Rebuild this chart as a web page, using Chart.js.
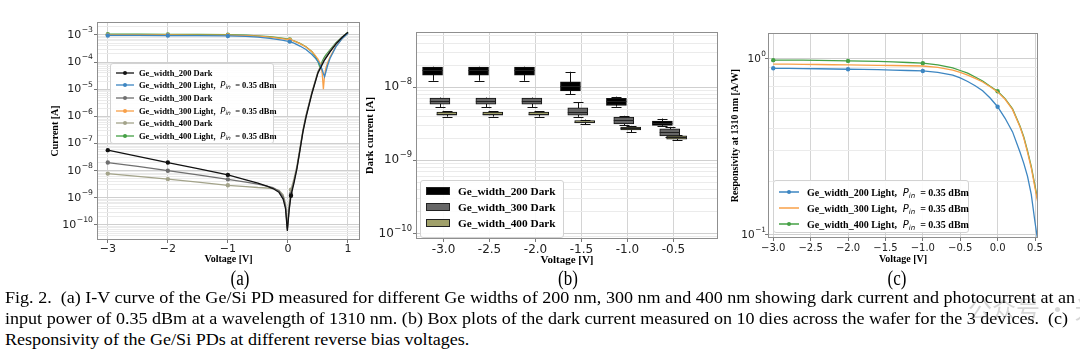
<!DOCTYPE html>
<html>
<head>
<meta charset="utf-8">
<script src="https://cdn.jsdelivr.net/npm/chart.js@4.4.1/dist/chart.umd.min.js"></script>
<style>
  html, body { margin: 0; padding: 0; background: #fff; }
  #fig { position: relative; width: 1080px; height: 353px; overflow: hidden; font-family: 'Liberation Serif', 'Times New Roman', serif; color: #000; }
  canvas { position: absolute; top: 0; }
  .leg { position: absolute; background: rgba(255,255,255,0.9); border: 1px solid #d2d2d2; border-radius: 3px; font-weight: bold; box-sizing: border-box; white-space: nowrap; }
  .row { display: flex; align-items: center; }
  .row svg { flex: none; }
  .row i { font-family: 'DejaVu Sans', sans-serif; font-weight: normal; }
  .row sub { font-size: 70%; vertical-align: -0.25em; line-height: 0; }
  .lab { position: absolute; top: 267px; font-size: 20px; line-height: 22px; transform: translateX(-50%) scaleX(0.85); }
  .cap { position: absolute; left: 5px; font-size: 17px; line-height: 21px; white-space: nowrap; transform-origin: 0 50%; }
  .wm { position: absolute; left: 968px; top: 290px; font-family: 'Noto Sans CJK SC', sans-serif; font-size: 24px; color: rgba(110,110,110,0.28); white-space: nowrap; }
</style>
</head>
<body>
<div id="fig">
  <canvas id="chartA" width="372" height="268" style="left:0px"></canvas>
  <canvas id="chartB" width="370" height="268" style="left:362px"></canvas>
  <canvas id="chartC" width="354" height="268" style="left:726px"></canvas>
  <div class="leg" id="legA" style="left:110px;top:63px;width:164px;height:81px;font-size:8.5px;padding-top:2.5px"></div>
  <div class="leg" id="legB" style="left:420px;top:180px;width:144px;height:58px;font-size:11.3px;padding-top:2px"></div>
  <div class="leg" id="legC" style="left:773px;top:180px;width:196px;height:53px;font-size:10px;padding-top:3px"></div>
  <div class="lab" style="left:240px">(a)</div>
  <div class="lab" style="left:568px">(b)</div>
  <div class="lab" style="left:897px">(c)</div>
  <div class="cap" style="top:287px">Fig. 2.&nbsp; (a) I-V curve of the Ge/Si PD measured for different Ge widths of 200 nm, 300 nm and 400 nm showing dark current and photocurrent at an</div>
  <div class="cap" style="top:308px">input power of 0.35 dBm at a wavelength of 1310 nm. (b) Box plots of the dark current measured on 10 dies across the wafer for the 3 devices.&nbsp; (c)</div>
  <div class="cap" style="top:329px">Responsivity of the Ge/Si PDs at different reverse bias voltages.</div>
  <div class="wm">公众号 · 光芯</div>
</div>
<script>
// (a) I-V curves
const vDark = [-3, -2.5, -2, -1.5, -1, -0.7, -0.5, -0.35, -0.25, -0.15, -0.08, -0.04, -0.01, 0.02, 0.05, 0.1, 0.15, 0.2, 0.25, 0.3, 0.4, 0.5, 0.6, 0.7, 0.8, 0.9, 1.0];
const dark200 = [5.7e-8, 3.4e-8, 2.0e-8, 1.2e-8, 7.0e-9, 4.6e-9, 3.5e-9, 2.7e-9, 2.2e-9, 1.6e-9, 9e-10, 4e-10, 6e-11, 3.5e-10, 1.2e-9, 3.5e-9, 1.2e-8, 5.6e-8, 2.7e-7, 9e-7, 7e-6, 4e-5, 1.1e-4, 2.4e-4, 4.7e-4, 8e-4, 1.25e-3];
const dark300 = [2.0e-8, 1.45e-8, 1.0e-8, 7e-9, 4.8e-9, 3.8e-9, 3.2e-9, 2.7e-9, 2.4e-9, 1.8e-9, 1.1e-9, 5e-10, 7e-11, 4e-10, 1.4e-9, 4e-9, 1.3e-8, 6e-8, 2.9e-7, 1e-6, 7.5e-6, 4.2e-5, 1.15e-4, 2.5e-4, 4.8e-4, 8e-4, 1.2e-3];
const dark400 = [7.8e-9, 6.2e-9, 4.9e-9, 3.8e-9, 2.9e-9, 2.6e-9, 2.4e-9, 2.3e-9, 2.2e-9, 1.9e-9, 1.3e-9, 6e-10, 8e-11, 6e-10, 2e-9, 5e-9, 1.5e-8, 7e-8, 3.2e-7, 1.1e-6, 8e-6, 4.5e-5, 1.2e-4, 2.6e-4, 5e-4, 8.2e-4, 1.2e-3];
const vLight = [-3, -2.5, -2, -1.5, -1, -0.7, -0.5, -0.3, -0.1, 0.03, 0.1, 0.2, 0.3, 0.4, 0.45, 0.5, 0.53, 0.55, 0.57, 0.59, 0.61, 0.63, 0.66, 0.7, 0.8, 0.9, 1.0];
const light200 = [9.6e-4, 9.6e-4, 9.5e-4, 9.4e-4, 9.2e-4, 8.8e-4, 8.3e-4, 7.5e-4, 6.5e-4, 5.7e-4, 5.0e-4, 3.9e-4, 2.9e-4, 1.9e-4, 1.45e-4, 1.05e-4, 8.2e-5, 6.8e-5, 5.2e-5, 3.8e-5, 2.9e-5, 4.2e-5, 7.5e-5, 1.35e-4, 3.7e-4, 7.2e-4, 1.15e-3];
const light300 = [1.0e-3, 1.0e-3, 1.0e-3, 9.9e-4, 9.8e-4, 9.4e-4, 9.0e-4, 8.3e-4, 7.3e-4, 6.6e-4, 6.0e-4, 4.8e-4, 3.6e-4, 2.4e-4, 1.8e-4, 1.3e-4, 9.5e-5, 7e-5, 4e-5, 1e-5, 3.2e-5, 5.8e-5, 9.5e-5, 1.55e-4, 3.9e-4, 7.3e-4, 1.2e-3];
const light400 = [1.06e-3, 1.06e-3, 1.05e-3, 1.04e-3, 1.02e-3, 9.8e-4, 9.3e-4, 8.6e-4, 7.6e-4, 6.8e-4, 6.1e-4, 4.9e-4, 3.7e-4, 2.4e-4, 1.7e-4, 1.05e-4, 6.7e-5, 8e-5, 1.05e-4, 1.3e-4, 1.55e-4, 1.8e-4, 2.2e-4, 2.8e-4, 5.2e-4, 8.3e-4, 1.25e-3];
const marksDark = [-3, -2, -1, 0.05];
const marksLight = [-3, -2, -1, 0.03];
const ticksAX = [-3, -2, -1, 0, 1];
const expsA = [-10, -9, -8, -7, -6, -5, -4, -3];

// (b) dark current box plots
const boxV = [-3.0, -2.5, -2.0, -1.5, -1.0, -0.5];
const q1_200 = [1.45e-8, 1.45e-8, 1.45e-8, 8.9e-9, 5.6e-9, 3.0e-9];
const q3_200 = [1.88e-8, 1.88e-8, 1.88e-8, 1.18e-8, 7.0e-9, 3.42e-9];
const med200 = [1.7e-8, 1.7e-8, 1.7e-8, 1.05e-8, 6.4e-9, 3.2e-9];
const lo200 = [1.22e-8, 1.22e-8, 1.22e-8, 8.0e-9, 5.4e-9, 2.95e-9];
const hi200 = [1.9e-8, 1.9e-8, 1.9e-8, 1.62e-8, 7.4e-9, 3.72e-9];
const q1_300 = [5.85e-9, 5.85e-9, 5.85e-9, 4.15e-9, 3.15e-9, 2.15e-9];
const q3_300 = [7.1e-9, 7.1e-9, 7.1e-9, 5.2e-9, 3.9e-9, 2.7e-9];
const med300 = [6.5e-9, 6.5e-9, 6.5e-9, 4.6e-9, 3.5e-9, 2.45e-9];
const lo300 = [5.3e-9, 5.3e-9, 5.3e-9, 3.92e-9, 3.0e-9, 2.1e-9];
const hi300 = [7.2e-9, 7.2e-9, 7.2e-9, 6.2e-9, 4.05e-9, 2.86e-9];
const q1_400 = [4.15e-9, 4.15e-9, 4.15e-9, 3.25e-9, 2.6e-9, 1.95e-9];
const q3_400 = [4.55e-9, 4.55e-9, 4.55e-9, 3.5e-9, 2.85e-9, 2.15e-9];
const med400 = [4.35e-9, 4.35e-9, 4.35e-9, 3.38e-9, 2.72e-9, 2.05e-9];
const lo400 = [3.95e-9, 3.95e-9, 3.95e-9, 3.1e-9, 2.42e-9, 1.88e-9];
const hi400 = [4.7e-9, 4.7e-9, 4.7e-9, 3.6e-9, 2.95e-9, 2.2e-9];
const expsB = [-10, -9, -8];

// (c) responsivity
const vResp = [-3.0, -2.8, -2.6, -2.4, -2.2, -2.0, -1.8, -1.6, -1.4, -1.2, -1.0, -0.8, -0.6, -0.5, -0.4, -0.3, -0.2, -0.1, 0.0, 0.1, 0.2, 0.3, 0.35, 0.4, 0.45, 0.5, 0.55];
const resp200 = [0.885, 0.884, 0.882, 0.88, 0.877, 0.874, 0.872, 0.869, 0.865, 0.86, 0.855, 0.84, 0.81, 0.78, 0.745, 0.705, 0.66, 0.60, 0.535, 0.46, 0.385, 0.295, 0.255, 0.215, 0.17, 0.118, 0.085];
const resp300 = [0.935, 0.934, 0.932, 0.93, 0.927, 0.925, 0.923, 0.92, 0.918, 0.915, 0.912, 0.895, 0.865, 0.84, 0.81, 0.775, 0.74, 0.695, 0.65, 0.59, 0.515, 0.41, 0.355, 0.295, 0.24, 0.185, 0.143];
const resp400 = [0.985, 0.985, 0.984, 0.983, 0.978, 0.975, 0.972, 0.968, 0.962, 0.955, 0.946, 0.925, 0.89, 0.86, 0.83, 0.79, 0.75, 0.70, 0.655, 0.595, 0.52, 0.415, 0.36, 0.30, 0.245, 0.19, 0.148];
const marksResp = [-3, -2, -1, 0];
const ticksCX = [-3.0, -2.5, -2.0, -1.5, -1.0, -0.5, 0.0, 0.5];
const expsC = [-1, 0];

const isMajor = v => Math.abs(Math.log10(v) - Math.round(Math.log10(v))) < 1e-6;
const pts = (xs, ys) => xs.map((x, i) => ({ x: x, y: ys[i] }));
const TICK_FONT = 'DejaVu Sans';
const TITLE_FONT = 'Liberation Serif';

function logTicks(exps) {
    const t = [];
    for (let e = exps[0] - 1; e <= exps[exps.length - 1]; e++) {
        for (let k = 1; k < 10; k++) t.push(k * Math.pow(10, e));
    }
    return t;
}

// y tick labels are drawn as 10 with a raised exponent, like matplotlib mathtext
function yLog(o) {
    return {
        type: 'logarithmic', min: o.min, max: o.max,
        afterBuildTicks: axis => {
            axis.ticks = logTicks(o.exps).filter(v => v >= axis.min && v <= axis.max).map(v => ({ value: v }));
        },
        afterFit: axis => { axis.width = o.width; axis.paddingTop = 0; axis.paddingBottom = 0; },
        ticks: { autoSkip: false, callback: () => '' },
        grid: {
            color: c => c.tick && isMajor(c.tick.value) ? '#cfcfcf' : '#ebebeb',
            tickColor: c => c.tick && isMajor(c.tick.value) ? '#777' : 'rgba(0,0,0,0)',
            tickLength: 3
        },
        border: { display: false },
        title: {
            display: true, text: o.title, color: '#000',
            font: { family: TITLE_FONT, size: o.titleSize, weight: 'bold' },
            padding: { top: o.titlePad, bottom: 0 }
        }
    };
}

function xLin(o) {
    return {
        type: 'linear', min: o.min, max: o.max, offset: false,
        afterBuildTicks: axis => { axis.ticks = o.ticks.map(v => ({ value: v })); },
        afterFit: axis => { axis.height = o.height; axis.paddingLeft = 0; axis.paddingRight = 0; },
        ticks: {
            autoSkip: false, maxRotation: 0, padding: o.tickPad, color: '#222',
            font: { family: TICK_FONT, size: o.fontSize },
            callback: o.label
        },
        grid: { color: '#d4d4d4', tickColor: '#777', tickLength: 3, offset: false },
        border: { display: false },
        title: {
            display: true, text: 'Voltage [V]', color: '#000',
            font: { family: TITLE_FONT, size: o.titleSize, weight: 'bold' },
            padding: { top: 0, bottom: o.titlePad }
        }
    };
}

const framePlugin = {
    id: 'frame',
    afterDraw(chart) {
        const a = chart.chartArea, c = chart.ctx;
        c.save();
        c.strokeStyle = '#8f8f8f';
        c.lineWidth = 1;
        c.strokeRect(Math.round(a.left) + 0.5, Math.round(a.top) + 0.5, Math.round(a.right - a.left) - 1, Math.round(a.bottom - a.top) - 1);
        c.restore();
    }
};

const powTicks = {
    id: 'powTicks',
    afterDraw(chart, args, opts) {
        const y = chart.scales.y, c = chart.ctx;
        const right = chart.chartArea.left - opts.gap;
        c.save();
        c.fillStyle = '#222';
        c.textBaseline = 'middle';
        c.textAlign = 'right';
        y.ticks.filter(t => isMajor(t.value)).forEach(t => {
            const py = y.getPixelForValue(t.value);
            const e = Math.round(Math.log10(t.value));
            const expText = (e < 0 ? '−' : '') + Math.abs(e);
            c.font = (opts.size * 0.7) + 'px "' + TICK_FONT + '"';
            c.fillText(expText, right, py - opts.size * 0.42);
            const w = c.measureText(expText).width;
            c.font = opts.size + 'px "' + TICK_FONT + '"';
            c.fillText('10', right - w - 0.5, py);
        });
        c.restore();
    }
};

const whiskerPlugin = {
    id: 'whiskers',
    beforeDatasetsDraw(chart) {
        const c = chart.ctx, y = chart.scales.y;
        c.save();
        c.strokeStyle = '#111';
        c.lineWidth = 1;
        chart.data.datasets.forEach((ds, i) => {
            chart.getDatasetMeta(i).data.forEach((bar, j) => {
                const x = Math.round(bar.x) + 0.5;
                const yLo = y.getPixelForValue(ds.lo[j]), yHi = y.getPixelForValue(ds.hi[j]);
                c.beginPath();
                c.moveTo(x, yLo); c.lineTo(x, yHi);
                c.moveTo(x - 5, Math.round(yLo) + 0.5); c.lineTo(x + 5, Math.round(yLo) + 0.5);
                c.moveTo(x - 5, Math.round(yHi) + 0.5); c.lineTo(x + 5, Math.round(yHi) + 0.5);
                c.stroke();
            });
        });
        c.restore();
    },
    afterDatasetsDraw(chart) {
        const c = chart.ctx, y = chart.scales.y;
        c.save();
        c.strokeStyle = '#222';
        c.lineWidth = 1;
        chart.data.datasets.forEach((ds, i) => {
            chart.getDatasetMeta(i).data.forEach((bar, j) => {
                const ym = Math.round(y.getPixelForValue(ds.med[j])) + 0.5;
                c.beginPath();
                c.moveTo(bar.x - 10, ym); c.lineTo(bar.x + 10, ym);
                c.stroke();
            });
        });
        c.restore();
    }
};

function lineSet(label, xs, ys, color, marks) {
    return {
        label: label, data: pts(xs, ys), marks: marks,
        borderColor: color, backgroundColor: color, borderWidth: 1.3,
        pointBackgroundColor: color, pointBorderWidth: 0, pointHoverRadius: 0,
        pointRadius: c => (c.raw && marks.includes(c.raw.x)) ? 2.2 : 0,
        tension: 0, fill: false
    };
}

function labelHtml(s) {
    return s.replace('P_in', '<i>&nbsp;P<sub>in</sub></i>&nbsp;');
}

function lineLegend(chart, id, o) {
    document.getElementById(id).innerHTML = chart.data.datasets.map(ds => {
        const mk = ds.marks.length ? `<circle cx="${o.w / 2}" cy="4" r="2" fill="${ds.borderColor}"/>` : '';
        return `<div class="row" style="height:${o.row}px"><svg width="${o.w}" height="8" style="margin:0 ${o.gap}px 0 ${o.ml}px">` +
            `<line x1="0" y1="4" x2="${o.w}" y2="4" stroke="${ds.borderColor}" stroke-width="${o.lw}"/>${mk}</svg>` +
            `<span>${labelHtml(ds.label)}</span></div>`;
    }).join('');
}

const common = { responsive: false, animation: false, devicePixelRatio: 1, events: [] };

const chartA = new Chart(document.getElementById('chartA'), {
    type: 'line',
    data: {
        datasets: [
            lineSet('Ge_width_200 Dark', vDark, dark200, '#111111', marksDark),
            lineSet('Ge_width_200 Light, P_in = 0.35 dBm', vLight, light200, '#3d86c2', marksLight),
            lineSet('Ge_width_300 Dark', vDark, dark300, '#6f6f6f', marksDark),
            lineSet('Ge_width_300 Light, P_in = 0.35 dBm', vLight, light300, '#f8a048', marksLight),
            lineSet('Ge_width_400 Dark', vDark, dark400, '#a3a38a', marksDark),
            lineSet('Ge_width_400 Light, P_in = 0.35 dBm', vLight, light400, '#45a045', marksLight)
        ]
    },
    options: Object.assign({}, common, {
        layout: { padding: { top: 22, right: 12, left: 0, bottom: 0 } },
        plugins: { legend: { display: false }, tooltip: { enabled: false }, powTicks: { size: 11, gap: 4 } },
        scales: {
            x: xLin({ min: -3.18, max: 1.2, ticks: ticksAX, height: 28, tickPad: 0, fontSize: 11, titleSize: 10, titlePad: 3,
                label: v => (v < 0 ? '−' : '') + Math.abs(v) }),
            y: yLog({ min: 2.8e-11, max: 3.0e-3, exps: expsA, width: 97, title: 'Current [A]', titleSize: 10, titlePad: 49 })
        }
    }),
    plugins: [framePlugin, powTicks]
});
lineLegend(chartA, 'legA', { row: 12.6, w: 18, ml: 5, gap: 5, lw: 1.3 });

function boxSet(label, off, q1, q3, med, lo, hi, color) {
    return {
        label: label,
        data: boxV.map((v, i) => ({ x: v + off, y: [q1[i], q3[i]] })),
        med: med, lo: lo, hi: hi,
        backgroundColor: color, borderColor: '#111', borderWidth: 1, borderSkipped: false,
        barThickness: 20, grouped: false
    };
}

const chartB = new Chart(document.getElementById('chartB'), {
    type: 'bar',
    data: {
        datasets: [
            boxSet('Ge_width_200 Dark', -0.12, q1_200, q3_200, med200, lo200, hi200, '#000000'),
            boxSet('Ge_width_300 Dark', -0.04, q1_300, q3_300, med300, lo300, hi300, '#666666'),
            boxSet('Ge_width_400 Dark', 0.035, q1_400, q3_400, med400, lo400, hi400, '#a0a06a')
        ]
    },
    options: Object.assign({}, common, {
        layout: { padding: { top: 32, right: 14, left: 0, bottom: 0 } },
        plugins: { legend: { display: false }, tooltip: { enabled: false }, powTicks: { size: 12, gap: 4 } },
        scales: {
            x: xLin({ min: -3.3, max: -0.015, ticks: boxV, height: 29, tickPad: 1, fontSize: 12, titleSize: 11, titlePad: 1,
                label: v => v.toFixed(1) }),
            y: yLog({ min: 8.4e-11, max: 5.66e-8, exps: expsB, width: 54, title: 'Dark current [A]', titleSize: 10.5, titlePad: 2 })
        }
    }),
    plugins: [whiskerPlugin, framePlugin, powTicks]
});
document.getElementById('legB').innerHTML = chartB.data.datasets.map(ds =>
    `<div class="row" style="height:16px"><span style="display:inline-block;width:24px;height:8px;margin:0 8px 0 5px;background:${ds.backgroundColor};border:1px solid #222;box-sizing:border-box"></span><span>${ds.label}</span></div>`
).join('');

const chartC = new Chart(document.getElementById('chartC'), {
    type: 'line',
    data: {
        datasets: [
            lineSet('Ge_width_200 Light, P_in = 0.35 dBm', vResp, resp200, '#3d86c2', marksResp),
            lineSet('Ge_width_300 Light, P_in = 0.35 dBm', vResp, resp300, '#f8a048', []),
            lineSet('Ge_width_400 Light, P_in = 0.35 dBm', vResp, resp400, '#45a045', marksResp)
        ]
    },
    options: Object.assign({}, common, {
        layout: { padding: { top: 33, right: 42, left: 0, bottom: 0 } },
        plugins: { legend: { display: false }, tooltip: { enabled: false }, powTicks: { size: 10.5, gap: 2 } },
        scales: {
            x: xLin({ min: -3.07, max: 0.54, ticks: ticksCX, height: 30, tickPad: 1, fontSize: 10, titleSize: 10, titlePad: 3,
                label: v => (v < 0 ? '−' : '') + Math.abs(v).toFixed(1) }),
            y: yLog({ min: 0.096, max: 1.405, exps: expsC, width: 42, title: 'Responsivity at 1310 nm [A/W]', titleSize: 10, titlePad: 3 })
        }
    }),
    plugins: [framePlugin, powTicks]
});
lineLegend(chartC, 'legC', { row: 16, w: 20, ml: 5, gap: 8, lw: 1.5 });

const caps = document.querySelectorAll('.cap');
const capScale = 1070 / caps[0].getBoundingClientRect().width;
caps.forEach(el => { el.style.transform = 'scaleX(' + capScale + ')'; });
</script>
</body>
</html>
